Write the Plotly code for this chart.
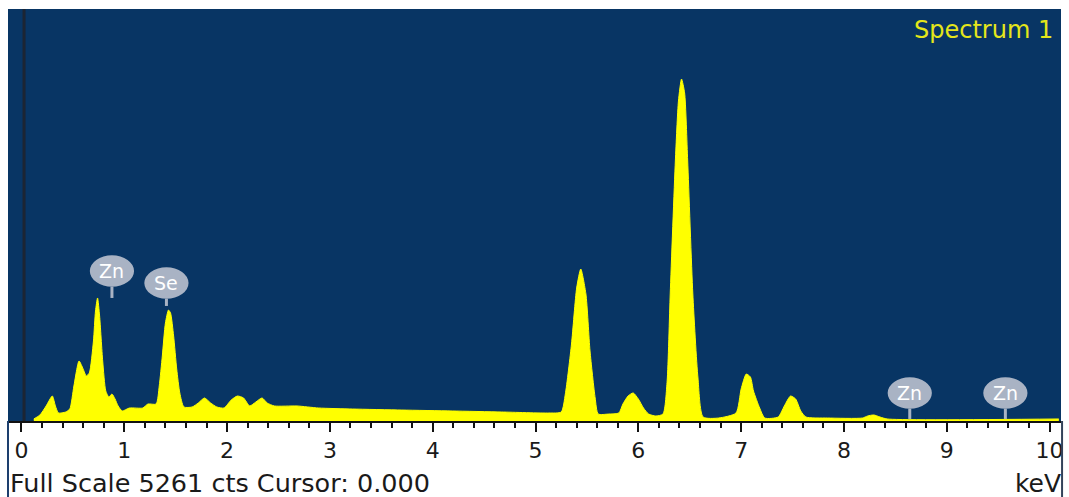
import plotly.graph_objects as go

# ---- data ----
energy_kev = [0.12, 0.18, 0.24, 0.30, 0.33, 0.36, 0.43, 0.47, 0.51, 0.56, 0.60, 0.63, 0.66, 0.70,
              0.72, 0.74, 0.76, 0.79, 0.82, 0.85, 0.88, 0.91, 0.94, 0.98, 1.05, 1.18, 1.23, 1.31,
              1.34, 1.37, 1.40, 1.43, 1.45, 1.48, 1.51, 1.54, 1.58, 1.66, 1.72, 1.78, 1.84, 1.90,
              1.97, 2.04, 2.10, 2.16, 2.22, 2.28, 2.34, 2.39, 2.46, 2.68, 2.89, 3.22, 3.70, 4.19,
              4.67, 5.13, 5.25, 5.29, 5.35, 5.40, 5.44, 5.49, 5.53, 5.58, 5.61, 5.71, 5.81, 5.85,
              5.90, 5.95, 6.00, 6.05, 6.10, 6.17, 6.24, 6.28, 6.31, 6.36, 6.39, 6.42, 6.45, 6.48,
              6.53, 6.58, 6.63, 6.78, 6.95, 7.00, 7.05, 7.09, 7.12, 7.18, 7.23, 7.36, 7.42, 7.48,
              7.53, 7.58, 7.63, 7.84, 8.18, 8.23, 8.29, 8.35, 8.42, 10.09]
counts = [26, 77, 192, 319, 192, 102, 115, 153, 447, 766, 664, 575, 613, 1022,
          1405, 1571, 1341, 766, 383, 306, 345, 281, 192, 128, 166, 166, 217, 217,
          447, 830, 1251, 1417, 1379, 1085, 664, 358, 179, 179, 230, 294, 230, 179,
          166, 268, 319, 294, 192, 243, 294, 230, 192, 192, 166, 153, 140, 128,
          115, 102, 115, 345, 983, 1698, 1941, 1622, 894, 294, 89, 89, 102, 217,
          319, 358, 281, 166, 89, 64, 89, 511, 1622, 3320, 4086, 4367, 4189, 3320,
          1622, 549, 51, 38, 102, 409, 600, 562, 383, 166, 38, 51, 192, 319,
          281, 128, 51, 38, 38, 64, 77, 51, 26, 26]

full_scale = 5261
cursor_kev = 0.025
x_range = [-0.131, 10.111]
tick_vals = [0, 1, 2, 3, 4, 5, 6, 7, 8, 9, 10]
tick_text = ["0", "1", "2", "3", "4", "5", "6", "7", "8", "9", "10"]

label_names = ["Zn", "Se", "Zn", "Zn"]
label_kev = [0.88, 1.41, 8.64, 9.57]
label_center_counts = [1915, 1762, 358, 358]
label_stem_end_counts = [1571, 1469, 26, 26]

# ---- styles ----
BLUE = "#083564"
YELLOW = "#ffff00"
BALLOON = "#a9b3c4"
FONT = "DejaVu Sans"

fig = go.Figure()
fig.add_trace(go.Scatter(
    x=energy_kev, y=counts, mode="lines",
    line=dict(color=YELLOW, width=1, shape="spline", smoothing=0.6),
    fill="tozeroy", fillcolor=YELLOW, hoverinfo="skip", showlegend=False,
))

shapes = []
# cursor line
shapes.append(dict(type="line", xref="x", yref="paper", x0=cursor_kev, x1=cursor_kev, y0=0, y1=1,
                   line=dict(color="#1c2533", width=3), layer="above"))
# balloons
half_w = 0.215
half_h = 200
for name, xk, yc, ys in zip(label_names, label_kev, label_center_counts, label_stem_end_counts):
    shapes.append(dict(type="line", xref="x", yref="y", x0=xk, x1=xk, y0=yc - half_h, y1=ys,
                       line=dict(color=BALLOON, width=3), layer="above"))
    shapes.append(dict(type="circle", xref="x", yref="y", x0=xk - half_w, x1=xk + half_w,
                       y0=yc - half_h, y1=yc + half_h, fillcolor=BALLOON,
                       line=dict(width=0), layer="above"))
# frame edges in the lower white strip
shapes.append(dict(type="line", xref="paper", yref="paper", x0=0, x1=0, y0=0, y1=-0.19,
                   line=dict(color="#1d3f6e", width=2)))
shapes.append(dict(type="line", xref="paper", yref="paper", x0=1.001, x1=1.001, y0=0, y1=-0.19,
                   line=dict(color="#33435a", width=2)))

annotations = []
for name, xk, yc in zip(label_names, label_kev, label_center_counts):
    annotations.append(dict(x=xk, y=yc, xref="x", yref="y", text=name, showarrow=False,
                            font=dict(family=FONT, size=19, color="white")))
annotations.append(dict(x=1.0, y=1.0, xref="paper", yref="paper", xanchor="right", yanchor="top",
                        xshift=-6, yshift=-5, text="Spectrum 1", showarrow=False,
                        font=dict(family=FONT, size=24, color="#e4e61a")))
annotations.append(dict(x=0, y=0, xref="paper", yref="paper", xanchor="left", yanchor="middle",
                        xshift=0, yshift=-62,
                        text=f"Full Scale {full_scale} cts Cursor: 0.000", showarrow=False,
                        font=dict(family=FONT, size=25.5, color="#1a1a1a")))
annotations.append(dict(x=1.0, y=0, xref="paper", yref="paper", xanchor="right", yanchor="middle",
                        xshift=2, yshift=-62, text="keV", showarrow=False,
                        font=dict(family=FONT, size=25, color="#1a1a1a")))

fig.update_layout(
    width=1069, height=497,
    margin=dict(l=8, r=5, t=9, b=76, pad=0),
    paper_bgcolor="white", plot_bgcolor=BLUE,
    shapes=shapes, annotations=annotations,
    xaxis=dict(range=x_range, tickvals=tick_vals, ticktext=tick_text,
               ticks="outside", ticklen=9, tickwidth=2, tickcolor="#111111",
               minor=dict(dtick=0.2, tick0=0, ticks="outside", ticklen=5, tickwidth=2,
                          tickcolor="#111111", showgrid=False),
               showgrid=False, zeroline=False, showline=True, linecolor="#111111", linewidth=2,
               tickfont=dict(family=FONT, size=22, color="#1a1a1a"), ticklabelstandoff=0,
               fixedrange=True),
    yaxis=dict(range=[0, full_scale], visible=False, showgrid=False, zeroline=False,
               fixedrange=True),
    showlegend=False,
)

fig.write_html("out.html", config={"displayModeBar": False},
               post_script="document.body.style.margin='0';document.body.style.overflow='hidden';")
